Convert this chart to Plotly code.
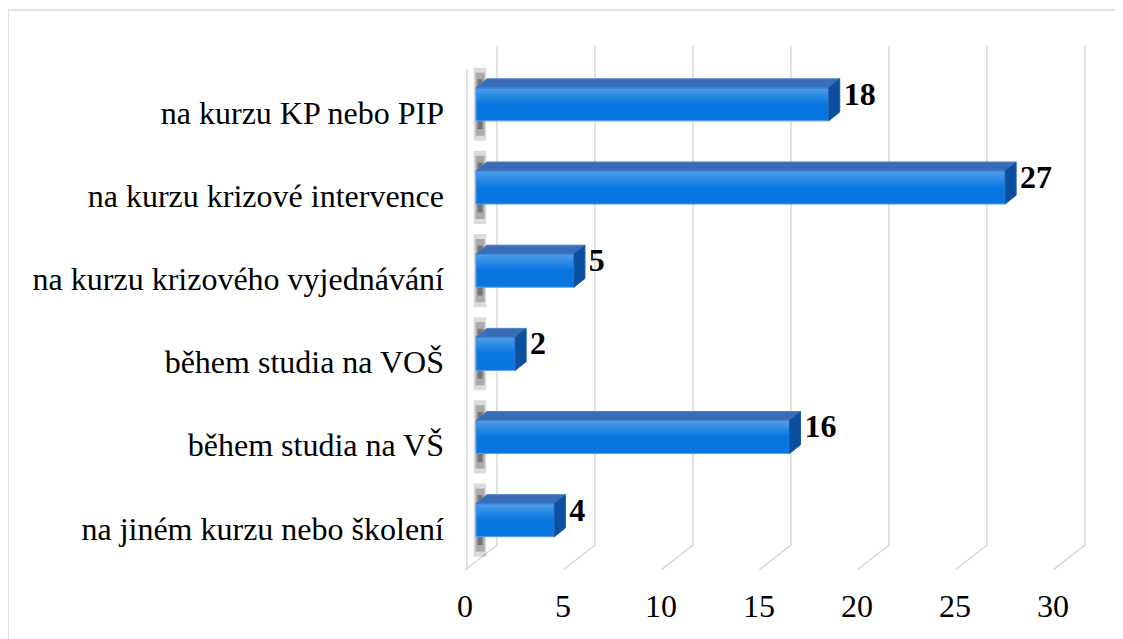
import plotly.graph_objects as go

# data (top to bottom as in the chart)
categories = [
    "na kurzu KP nebo PIP",
    "na kurzu krizové intervence",
    "na kurzu krizového vyjednávání",
    "během studia na VOŠ",
    "během studia na VŠ",
    "na jiném kurzu nebo školení",
]
counts = [18, 27, 5, 2, 16, 4]
x_ticks = [0, 5, 10, 15, 20, 25, 30]

# fake 3d geometry (data units)
pos = list(range(len(categories) - 1, -1, -1))  # 5 .. 0
bar_w = 0.40
depth_x = 0.56
depth_y = 0.105
front_off = -0.56   # label plane, in front of the bars
back_off = 1.07     # back wall
y_top, y_back, y_front = 5.70, -0.30, -0.60

grid_col = "#d9d9d9"
font = "Liberation Serif, Times New Roman, serif"

fig = go.Figure()

# grid: back wall verticals + floor diagonals (shapes so they sit under the bars)
for v in x_ticks:
    fig.add_shape(type="path", xref="x", yref="y", layer="below",
                  path=f"M {v + back_off} {y_top} L {v + back_off} {y_back} "
                       f"L {v + front_off} {y_front}",
                  line=dict(color=grid_col, width=1.5))
# left wall front edge
fig.add_shape(type="line", xref="x", yref="y", layer="below",
              x0=front_off + 0.1, x1=front_off + 0.1, y0=y_back - 0.3, y1=5.42,
              line=dict(color=grid_col, width=1.5))

# blurry shadows of the bars on the left wall
for yc in pos:
    for (x0, x1, h, a) in [(-0.12, 0.52, 0.44, 0.15),
                           (-0.02, 0.44, 0.38, 0.25),
                           (0.08, 0.34, 0.30, 0.35)]:
        fig.add_shape(type="rect", xref="x", yref="y", layer="below",
                      x0=x0, x1=x1, y0=yc - h, y1=yc + h,
                      fillcolor=f"rgba(20,20,20,{a})", line=dict(width=0))

# front faces
fig.add_trace(go.Bar(
    y=pos, x=counts, orientation="h", width=bar_w,
    marker=dict(color="#0876e0", line=dict(color="#5a9fe6", width=1)),
    hoverinfo="x", showlegend=False))

for yc, v in zip(pos, counts):
    top = yc + bar_w / 2
    bot = yc - bar_w / 2
    # highlight on upper part of the front face
    fig.add_trace(go.Scatter(
        x=[0.03, v - 0.03, v - 0.03, 0.03, 0.03],
        y=[yc, yc, top - 0.01, top - 0.01, yc],
        fill="toself", mode="lines", line=dict(width=0),
        fillgradient=dict(type="vertical",
                          colorscale=[[0, "rgba(255,255,255,0)"],
                                      [1, "rgba(255,255,255,0.28)"]]),
        hoverinfo="skip", showlegend=False))
    # top face
    fig.add_trace(go.Scatter(
        x=[0, v, v + depth_x, depth_x, 0],
        y=[top, top, top + depth_y, top + depth_y, top],
        fill="toself", fillcolor="#3a6db8", mode="lines",
        line=dict(color="#4a7cc4", width=1),
        hoverinfo="skip", showlegend=False))
    # side face
    fig.add_trace(go.Scatter(
        x=[v, v + depth_x, v + depth_x, v, v],
        y=[bot, bot + depth_y, top + depth_y, top, bot],
        fill="toself", fillcolor="#0c4f9e", mode="lines",
        line=dict(color="#1a5aa8", width=1),
        hoverinfo="skip", showlegend=False))

# value labels
fig.add_trace(go.Scatter(
    x=[v + depth_x + 0.2 for v in counts],
    y=[yc + 0.09 for yc in pos],
    mode="text", text=[str(v) for v in counts],
    textposition="middle right",
    textfont=dict(family=font, size=32, color="#000000", weight="bold"),
    hoverinfo="skip", showlegend=False))

# outer chart border
fig.add_shape(type="rect", xref="paper", yref="paper",
              x0=-0.667, x1=1.6, y0=-1.0, y1=1.0687,
              line=dict(color=grid_col, width=1.5), layer="below")

# page body has an 8px margin, so margins are shifted to keep the plot in place
fig.update_layout(
    width=1123, height=639,
    margin=dict(l=437, r=31, t=38, b=77),
    paper_bgcolor="white", plot_bgcolor="white",
    font=dict(family=font, size=32, color="#000000"),
    bargap=0.6,
    xaxis=dict(range=[-1.58, 31.84], showgrid=False, zeroline=False,
               showline=False,
               tickvals=[v + front_off for v in x_ticks],
               ticktext=[str(v) for v in x_ticks],
               ticks="", ticklabelstandoff=14,
               tickfont=dict(size=32)),
    yaxis=dict(range=[y_front, y_top], showgrid=False, zeroline=False,
               showline=False,
               tickvals=[p - 0.1 for p in pos], ticktext=categories,
               ticks="", tickfont=dict(size=32)),
)

fig.write_html("out.html")
